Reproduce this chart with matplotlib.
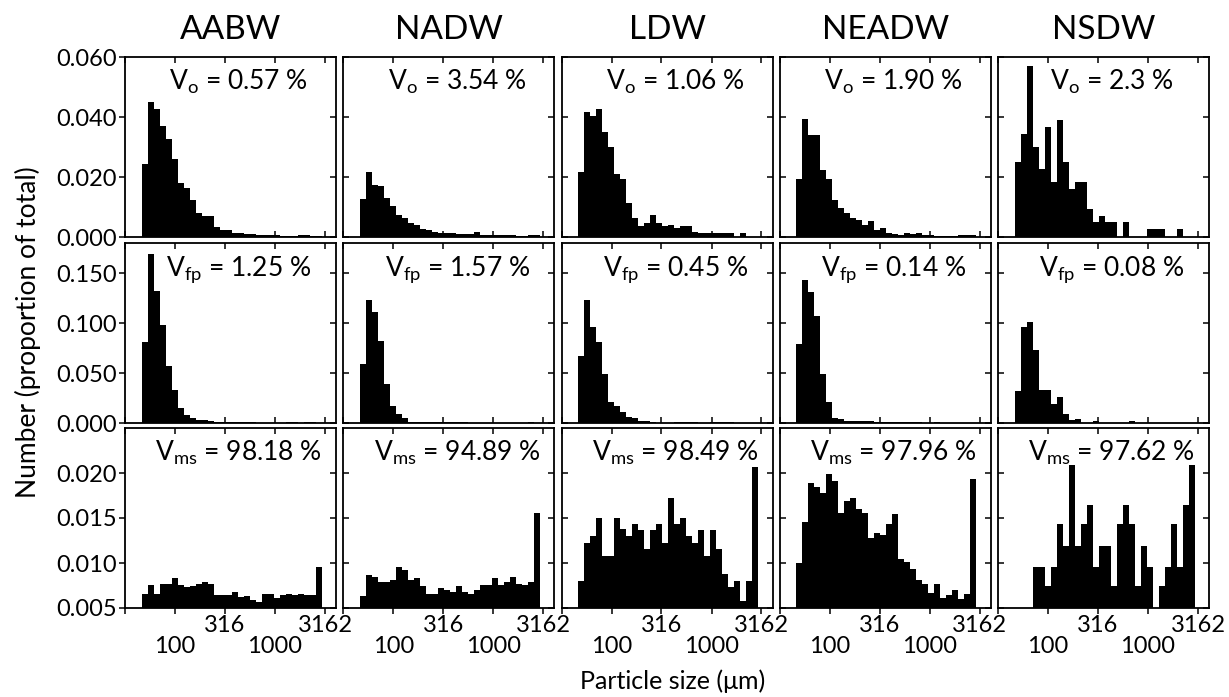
import numpy as np
import matplotlib
matplotlib.use('Agg')
import matplotlib.pyplot as plt
import matplotlib.lines as mlines
from matplotlib.ticker import FixedLocator, NullLocator

plt.rcParams['font.family'] = ['Lato', 'DejaVu Sans']

# water masses (columns) and particle classes (rows)
water_masses = ['AABW', 'NADW', 'LDW', 'NEADW', 'NSDW']
classes = ['o', 'fp', 'ms']

# volume fractions (%) shown in each panel
vol_o = ['0.57', '3.54', '1.06', '1.90', '2.3']
vol_fp = ['1.25', '1.57', '0.45', '0.14', '0.08']
vol_ms = ['98.18', '94.89', '98.49', '97.96', '97.62']

# 30 log-spaced size bins (um)
bin_edges = np.logspace(1.667, 3.467, 31)

# proportion of total per bin
o_aabw = [0.0244, 0.0449, 0.0427, 0.0371, 0.0327, 0.0260, 0.0180, 0.0163, 0.0122, 0.0080,
          0.0069, 0.0069, 0.0033, 0.0024, 0.0024, 0.0013, 0.0013, 0.0011, 0.0009, 0.0007,
          0.0007, 0.0006, 0.0006, 0.0005, 0.0005, 0.0004, 0.0007, 0.0007, 0.0003, 0.0003]
o_nadw = [0.0128, 0.0217, 0.0174, 0.0169, 0.0130, 0.0102, 0.0074, 0.0063, 0.0047, 0.0041,
          0.0028, 0.0022, 0.0017, 0.0014, 0.0013, 0.0012, 0.0011, 0.0011, 0.0010, 0.0016,
          0.0008, 0.0008, 0.0008, 0.0008, 0.0008, 0.0007, 0.0002, 0.0002, 0.0008, 0.0008]
o_ldw = [0.0217, 0.0416, 0.0404, 0.0427, 0.0349, 0.0300, 0.0210, 0.0193, 0.0113, 0.0063,
         0.0036, 0.0047, 0.0072, 0.0047, 0.0036, 0.0041, 0.0030, 0.0036, 0.0036, 0.0018,
         0.0013, 0.0013, 0.0013, 0.0013, 0.0013, 0.0013, 0.0, 0.0013, 0.0, 0.0]
o_neadw = [0.0194, 0.0393, 0.0341, 0.0341, 0.0222, 0.0194, 0.0124, 0.0097, 0.0080, 0.0063,
           0.0058, 0.0041, 0.0052, 0.0024, 0.0030, 0.0013, 0.0010, 0.0008, 0.0013, 0.0010,
           0.0013, 0.0008, 0.0006, 0.0003, 0.0003, 0.0003, 0.0003, 0.0006, 0.0006, 0.0006]
o_nsdw = [0.0249, 0.0343, 0.0569, 0.0300, 0.0227, 0.0367, 0.0182, 0.0389, 0.0249, 0.0160,
          0.0182, 0.0182, 0.0093, 0.0049, 0.0071, 0.0049, 0.0049, 0.0, 0.0049, 0.0,
          0.0, 0.0, 0.0028, 0.0028, 0.0028, 0.0, 0.0, 0.0028, 0.0, 0.0]

fp_aabw = [0.0815, 0.1690, 0.1320, 0.0980, 0.0569, 0.0333, 0.0153, 0.0083, 0.0053, 0.0033,
           0.0027, 0.0020, 0.0013, 0.0010, 0.0010, 0.0008, 0.0008, 0.0007, 0.0007, 0.0005,
           0.0005, 0.0005, 0.0003, 0.0003, 0.0007, 0.0007, 0.0003, 0.0007, 0.0007, 0.0003]
fp_nadw = [0.0593, 0.1226, 0.1108, 0.0822, 0.0390, 0.0175, 0.0090, 0.0047, 0.0013, 0.0010,
           0.0007, 0.0007, 0.0007, 0.0007, 0.0007, 0.0007, 0.0007, 0.0007, 0.0005, 0.0005,
           0.0005, 0.0005, 0.0005, 0.0005, 0.0005, 0.0005, 0.0005, 0.0005, 0.0010, 0.0003]
fp_ldw = [0.0670, 0.1226, 0.0956, 0.0815, 0.0492, 0.0209, 0.0175, 0.0114, 0.0064, 0.0047,
          0.0020, 0.0020, 0.0010, 0.0005, 0.0005, 0.0005, 0.0010, 0.0010, 0.0010, 0.0010,
          0.0005, 0.0005, 0.0013, 0.0010, 0.0010, 0.0010, 0.0005, 0.0003, 0.0003, 0.0003]
fp_neadw = [0.0788, 0.1428, 0.1310, 0.1074, 0.0492, 0.0215, 0.0054, 0.0037, 0.0024, 0.0020,
            0.0020, 0.0020, 0.0020, 0.0013, 0.0010, 0.0010, 0.0010, 0.0010, 0.0007, 0.0010,
            0.0010, 0.0005, 0.0005, 0.0010, 0.0003, 0.0003, 0.0003, 0.0003, 0.0003, 0.0003]
fp_nsdw = [0.0323, 0.0956, 0.1007, 0.0727, 0.0333, 0.0333, 0.0192, 0.0256, 0.0091, 0.0030,
           0.0040, 0.0, 0.0, 0.0020, 0.0, 0.0, 0.0, 0.0, 0.0, 0.0020,
           0.0, 0.0, 0.0, 0.0, 0.0, 0.0, 0.0, 0.0, 0.0, 0.0]

ms_aabw = [0.0066, 0.0076, 0.0066, 0.0077, 0.0077, 0.0083, 0.0076, 0.0073, 0.0074, 0.0077,
           0.0079, 0.0077, 0.0064, 0.0064, 0.0064, 0.0068, 0.0062, 0.0063, 0.0059, 0.0057,
           0.0066, 0.0066, 0.0061, 0.0064, 0.0066, 0.0064, 0.0066, 0.0064, 0.0064, 0.0096]
ms_nadw = [0.0063, 0.0087, 0.0085, 0.0079, 0.0079, 0.0081, 0.0096, 0.0092, 0.0081, 0.0083,
           0.0074, 0.0066, 0.0066, 0.0072, 0.0070, 0.0068, 0.0074, 0.0068, 0.0066, 0.0070,
           0.0076, 0.0076, 0.0083, 0.0076, 0.0079, 0.0085, 0.0077, 0.0076, 0.0079, 0.0156]
ms_ldw = [0.0080, 0.0122, 0.0130, 0.0150, 0.0108, 0.0108, 0.0150, 0.0138, 0.0130, 0.0143,
          0.0137, 0.0116, 0.0137, 0.0143, 0.0122, 0.0172, 0.0143, 0.0150, 0.0130, 0.0122,
          0.0137, 0.0108, 0.0137, 0.0116, 0.0088, 0.0073, 0.0080, 0.0058, 0.0080, 0.0207]
ms_neadw = [0.0100, 0.0146, 0.0189, 0.0184, 0.0178, 0.0199, 0.0191, 0.0156, 0.0169, 0.0172,
            0.0160, 0.0156, 0.0128, 0.0133, 0.0131, 0.0143, 0.0154, 0.0104, 0.0101, 0.0093,
            0.0081, 0.0077, 0.0067, 0.0077, 0.0061, 0.0065, 0.0070, 0.0060, 0.0066, 0.0193]
ms_nsdw = [0.0, 0.0, 0.0, 0.0096, 0.0096, 0.0075, 0.0096, 0.0143, 0.0119, 0.0209,
           0.0119, 0.0143, 0.0165, 0.0096, 0.0119, 0.0119, 0.0075, 0.0143, 0.0165, 0.0143,
           0.0075, 0.0119, 0.0096, 0.0, 0.0075, 0.0096, 0.0143, 0.0096, 0.0165, 0.0209]

rows = [
    [o_aabw, o_nadw, o_ldw, o_neadw, o_nsdw],
    [fp_aabw, fp_nadw, fp_ldw, fp_neadw, fp_nsdw],
    [ms_aabw, ms_nadw, ms_ldw, ms_neadw, ms_nsdw],
]
vols = [vol_o, vol_fp, vol_ms]

y_limits = [(0.0, 0.060), (0.0, 0.180), (0.005, 0.025)]
y_ticks = [[0.0, 0.02, 0.04, 0.06], [0.0, 0.05, 0.10, 0.15], [0.005, 0.010, 0.015, 0.020]]
x_ticks = [10 ** 1.5, 100, 316, 1000, 3162]
x_ticklabels = ['', '\n100', '316', '\n1000', '3162']

fig = plt.figure(figsize=(12.29, 6.97), dpi=100)

W, H = 1229.0, 697.0
ax_left0, ax_w, col_pitch = 125, 211, 218.25
row_tops = [57, 243, 428]
ax_h = 180

widths = np.diff(bin_edges)

for r in range(3):
    for c in range(5):
        left = (ax_left0 + c * col_pitch) / W
        bottom = 1 - (row_tops[r] + ax_h) / H
        ax = fig.add_axes([left, bottom, ax_w / W, ax_h / H])
        ax.bar(bin_edges[:-1], rows[r][c], width=widths, align='edge',
               color='black', linewidth=0)
        ax.set_xscale('log')
        ax.set_xlim(10 ** 1.5, 10 ** 3.61)
        ax.set_ylim(*y_limits[r])
        ax.xaxis.set_major_locator(FixedLocator(x_ticks))
        ax.xaxis.set_minor_locator(NullLocator())
        ax.set_yticks(y_ticks[r])
        for s in ax.spines.values():
            s.set_linewidth(1.3)

        ax.tick_params(which='both', direction='in', top=True, right=True,
                       length=4, width=1.1, labelsize=17, pad=3)
        if r == 2:
            ax.set_xticklabels(x_ticklabels, linespacing=1.0)
            ax.tick_params(axis='x', direction='out', pad=1)
        else:
            ax.set_xticklabels([])
        if c == 0:
            ax.set_yticklabels(['%.3f' % v for v in y_ticks[r]])
            ax.tick_params(axis='y', direction='out', pad=2)
        else:
            ax.set_yticklabels([])

        # keep the opposite-side ticks pointing inward
        for t in ax.xaxis.get_major_ticks():
            t.tick1line.set_marker(mlines.TICKDOWN if r == 2 else mlines.TICKUP)
            t.tick2line.set_marker(mlines.TICKDOWN)
        for t in ax.yaxis.get_major_ticks():
            t.tick1line.set_marker(mlines.TICKLEFT if c == 0 else mlines.TICKRIGHT)
            t.tick2line.set_marker(mlines.TICKLEFT)

        label = r'$\mathregular{V_{%s}}$ = %s %%' % (classes[r], vols[r][c])
        ax.text(0.54, 0.82, label, transform=ax.transAxes, ha='center',
                va='baseline', fontsize=19)

        if r == 0:
            ax.set_title(water_masses[c], fontsize=24, pad=13)

fig.text(0.023, 0.524, 'Number (proportion of total)', rotation=90,
         ha='center', va='center', fontsize=19)
fig.text(0.547, 0.022, 'Particle size (\u03bcm)', ha='center', va='center',
         fontsize=18)

fig.savefig('out.png', dpi=100)
